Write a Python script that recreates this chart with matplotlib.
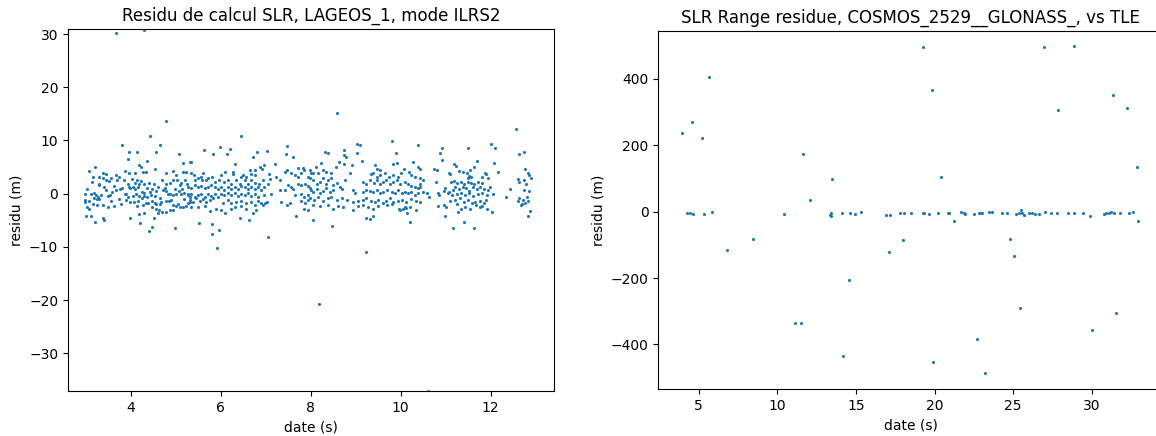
# -*- coding: utf-8 -*-
"""
Residus SLR : LAGEOS_1 (mode ILRS2) et COSMOS_2529 (GLONASS) vs TLE
"""

import matplotlib
matplotlib.use('Agg')
import matplotlib.pyplot as plt


##--------------------##
## Data
##--------------------##

# LAGEOS_1 : date (s) / residu (m)
lageos_t = [
    4.42, 3.81, 4.65, 3.96, 4.14, 4.56, 5.08, 3.93, 4.36, 5.16, 3.21, 4.19, 4.22, 4.54, 3.07, 4.27,
    4.33, 5.31, 3.87, 3.96, 4.10, 3.37, 3.44, 4.78, 4.94, 5.00, 5.16, 5.22, 3.16, 3.30, 3.38, 3.52,
    3.67, 3.73, 3.70, 3.13, 3.30, 3.28, 3.44, 4.02, 4.13, 4.23, 4.30, 4.41, 4.51, 4.19, 3.93, 3.96,
    4.04, 4.10, 3.99, 3.81, 3.76, 3.67, 3.59, 3.53, 3.48, 2.97, 3.03, 3.12, 3.18, 3.22, 3.27, 3.19,
    3.24, 3.30, 3.34, 2.97, 2.98, 3.07, 3.86, 3.90, 3.93, 4.11, 4.25, 4.30, 4.42, 4.56, 4.54, 4.44,
    4.36, 4.30, 4.17, 4.70, 4.78, 4.87, 4.93, 5.03, 5.12, 5.21, 5.09, 5.24, 4.72, 4.78, 4.82, 4.87,
    4.93, 5.00, 5.06, 5.11, 5.19, 5.27, 5.31, 3.89, 3.98, 4.07, 4.16, 4.13, 4.26, 4.33, 4.38, 4.48,
    4.53, 4.56, 4.65, 4.78, 4.84, 4.90, 4.94, 5.00, 5.05, 5.09, 5.15, 5.22, 5.27, 5.31, 3.03, 3.07,
    3.15, 3.24, 3.37, 3.50, 4.47, 4.56, 4.62, 4.69, 4.79, 4.87, 4.93, 3.01, 3.12, 3.21, 3.37, 3.40,
    3.98, 4.17, 4.20, 4.29, 4.41, 4.47, 4.51, 4.60, 4.99, 3.66, 4.29, 4.79,
    3.62, 3.74, 3.79, 3.85, 4.05, 4.08, 4.15, 4.24, 4.35, 4.46, 4.60, 4.64, 4.68, 4.75, 4.98, 5.14,
    5.18, 3.56, 3.63, 3.45, 3.40, 3.55,
    # 5.3 - 8.0
    6.45, 5.62, 5.99, 5.82, 6.13, 6.21, 6.80, 7.03, 6.71, 7.48, 7.45, 7.61, 5.33, 6.31, 6.65, 6.88,
    6.96, 6.91, 7.21, 6.75, 7.48, 7.43, 7.72, 7.83, 7.86, 5.34, 5.40, 5.61, 6.10, 6.27, 6.28, 6.01,
    6.49, 6.57, 6.45, 6.68, 6.75, 7.08, 7.09, 7.23, 7.32, 7.57, 7.64, 7.72, 7.79, 7.94, 8.01, 5.42,
    5.49, 5.56, 5.59, 5.67, 5.71, 5.80, 5.86, 5.97, 6.08, 6.16, 6.23, 6.34, 6.42, 6.53, 6.60, 6.68,
    6.75, 6.86, 6.94, 7.05, 5.27, 5.34, 5.42, 5.49, 5.56, 5.64, 5.71, 5.79, 5.86, 5.94, 6.01, 6.08,
    6.16, 6.23, 6.31, 6.38, 6.45, 6.53, 6.60, 6.68, 6.75, 6.82, 6.90, 6.97, 7.11, 7.31, 7.42, 7.49,
    7.57, 7.60, 7.72, 7.79, 7.88, 7.94, 7.98, 5.27, 5.34, 5.42, 5.49, 5.56, 5.64, 5.71, 5.79, 5.86,
    5.94, 6.01, 6.08, 6.16, 6.23, 6.31, 6.38, 6.45, 6.53, 6.60, 6.68, 6.75, 6.82, 6.97, 7.64, 7.79,
    7.86, 7.94, 5.31, 5.38, 5.45, 5.53, 5.60, 5.68, 5.75, 5.82, 6.04, 6.16, 6.23, 6.34, 6.45, 6.57,
    6.68, 6.75, 6.82, 6.90, 6.99, 7.33, 7.48, 7.53, 7.79, 7.88, 7.95, 5.34, 5.49, 5.64, 5.77, 5.89,
    6.01, 6.10, 6.22, 6.31, 6.45, 6.57, 6.71, 6.79, 6.93, 7.03, 7.86, 7.95, 6.43, 6.62, 7.67, 5.52,
    5.80, 5.97, 5.80, 5.91, 7.06,
    # 8.0 - 10.7
    9.02, 9.09, 9.81, 10.38, 8.31, 8.39, 8.74, 8.75, 8.78, 9.02, 9.90, 8.63, 8.74, 8.91, 9.15, 9.44,
    9.48, 9.54, 9.84, 9.91, 10.27, 10.39, 10.43, 10.74, 8.12, 8.22, 7.98, 8.06, 8.17, 8.28, 8.35, 8.44,
    8.56, 8.87, 8.76, 9.33, 9.39, 9.47, 9.55, 9.65, 9.73, 9.84, 9.93, 10.01, 10.07, 10.19, 10.24, 10.32,
    10.43, 10.50, 10.44, 7.98, 8.06, 8.13, 8.20, 8.28, 8.34, 8.39, 8.46, 8.50, 8.58, 8.65, 8.69, 9.17,
    9.24, 9.32, 9.41, 9.47, 9.54, 9.61, 9.67, 9.76, 9.82, 9.91, 9.98, 10.10, 10.17, 10.24, 10.32, 10.39,
    10.43, 8.00, 8.06, 8.13, 8.20, 8.28, 8.35, 8.43, 8.50, 8.95, 8.98, 9.17, 9.24, 9.32, 9.39, 9.47,
    9.54, 9.61, 9.69, 9.80, 9.87, 9.95, 10.02, 10.10, 10.17, 10.24, 10.32, 10.39, 10.50, 10.58, 10.64,
    7.98, 8.07, 8.17, 8.28, 8.39, 8.46, 8.58, 8.69, 8.81, 8.95, 9.06, 9.17, 9.24, 9.33, 9.43, 9.50,
    9.60, 9.67, 9.76, 9.84, 9.95, 10.02, 10.13, 10.24, 10.34, 10.43, 8.06, 8.20, 8.39, 8.49, 8.61, 8.72,
    8.93, 9.06, 9.17, 9.28, 9.39, 9.50, 9.69, 9.80, 9.97, 10.10, 10.21, 10.34, 8.06, 8.48, 9.24, 9.32,
    9.39, 10.15, 10.21, 8.59, 8.18, 9.24, 10.60, 9.98, 10.05, 10.13,
    # 10.7 - 13
    12.56, 12.02, 12.10, 10.92, 10.88, 10.92, 11.49, 12.64, 12.74, 11.70, 11.64, 11.55, 12.08, 11.18,
    11.23, 10.80, 11.07, 11.10, 11.29, 11.38, 11.47, 12.16, 12.76, 12.83, 12.86, 12.91, 10.79, 11.13,
    11.18, 11.25, 11.35, 11.42, 11.50, 11.57, 11.64, 11.72, 11.81, 11.87, 11.90, 11.94, 11.50, 11.53,
    11.57, 11.81, 12.61, 12.64, 12.79, 12.74, 10.99, 10.96, 11.07, 11.16, 11.22, 11.30, 11.38, 11.45,
    11.53, 11.62, 11.70, 11.77, 11.85, 11.94, 11.99, 12.43, 12.74, 12.85, 10.83, 10.86, 11.05, 11.14,
    11.25, 11.35, 11.44, 11.53, 11.62, 11.73, 11.82, 11.92, 12.05, 12.34, 12.64, 12.81, 11.10, 11.22,
    11.33, 11.40, 11.50, 11.59, 11.66, 11.77, 11.85, 11.90, 12.61, 12.70, 12.76, 12.83, 10.82, 10.96,
    11.01, 11.25, 11.35, 11.44, 11.55, 11.67, 11.77, 11.81, 11.93, 12.03, 12.68, 12.72, 12.88, 10.98,
    11.27, 11.42, 11.16, 11.63, 12.84,
]

lageos_res = [
    10.9, 9.2, 9.2, 7.9, 7.9, 7.9, 7.4, 6.6, 6.2, 5.7, 5.0, 5.4, 5.0, 4.6, 4.2, 4.1,
    4.0, 5.9, 4.3, 3.9, 3.8, 3.9, 3.6, 3.8, 4.3, 3.5, 4.0, 4.1, 3.2, 3.2, 3.0, 2.4,
    3.5, 3.2, 2.5, 2.2, 1.9, 1.6, 2.5, 2.7, 2.5, 2.4, 1.9, 2.0, 1.9, 1.9, 1.9, 1.3,
    1.3, 0.9, 1.0, 1.0, 0.8, 0.7, 0.3, -0.2, -0.5, 0.0, 0.8, -0.1, 0.2, -0.3, -0.6, -0.9,
    -1.1, -1.0, -0.3, -1.2, -1.5, -1.3, 0.0, 0.0, -0.6, 0.0, 0.3, 0.2, 0.3, 0.4, -0.5, -0.3,
    -0.6, -0.5, -0.5, 2.5, 1.9, 2.0, 2.5, 2.5, 2.0, 2.5, 1.6, 1.9, 0.7, 0.4, -0.1, 0.0,
    -0.3, -0.1, 0.4, -0.1, 0.2, -0.1, -0.6, -1.2, -1.5, -1.5, -1.3, -2.3, -2.2, -1.7, -1.7, -1.3,
    -1.7, -2.0, -2.0, -1.4, -1.4, -1.2, -2.2, -2.3, -2.0, -2.5, -2.5, -2.3, -1.8, -1.5, -2.6, -2.9,
    -2.0, -2.2, -2.2, -2.6, -2.6, -2.8, -3.1, -3.4, -3.4, -3.0, -3.0, -4.2, -4.2, -5.4, -4.5, -4.9,
    -4.5, -3.8, -5.5, -3.6, -7.0, -6.2, -4.5, -3.7, -6.4, 30.1, 30.8, 13.7,
    1.5, -1.0, -2.0, 2.6, -0.4, 2.0, 1.2, -0.9, 1.0, 0.9, 1.2, -0.8, -1.5, 1.0, 0.9, 0.8,
    -1.0, -1.4, -2.3, 0.6, 1.2, 3.0,
    # 5.3 - 8.0
    10.9, 8.2, 8.7, 7.4, 7.4, 8.3, 7.9, 8.1, 6.8, 9.0, 7.4, 6.8, 5.9, 5.5, 4.4, 5.05,
    5.36, 4.6, 5.5, 4.4, 4.4, 4.1, 4.9, 4.9, 4.4, 3.8, 3.5, 3.9, 4.1, 4.1, 3.7, 3.5,
    3.5, 3.2, 3.2, 3.6, 3.5, 3.7, 2.7, 3.2, 2.5, 3.8, 3.5, 3.2, 3.8, 3.2, 3.8, 2.5,
    2.9, 3.2, 2.5, 2.5, 2.9, 3.2, 2.2, 2.5, 2.2, 2.5, 1.9, 2.5, 1.9, 2.5, 1.9, 2.5,
    2.0, 1.9, 2.5, 1.9, 1.3, 1.0, 1.6, 1.2, 1.4, 1.0, 1.3, 1.6, 1.3, 0.8, 1.2, 0.7,
    1.2, 0.8, 1.3, 0.9, 1.4, 1.2, 0.9, 1.3, 0.8, 1.2, 0.7, 1.2, -0.1, 0.7, 0.7, 1.6,
    1.2, 0.8, 1.9, 1.6, 1.9, 1.4, 1.0, -0.3, 0.0, -0.6, -0.3, 0.0, -0.6, -0.1, -0.5, -0.1,
    -0.6, 0.0, -0.3, 0.2, -0.3, 0.2, -0.5, 0.0, -0.3, 0.2, -0.5, 0.0, -0.6, -0.3, -0.3, 0.0,
    -0.6, -0.3, -1.2, -1.5, -0.9, -1.3, -1.1, -1.5, -1.2, -0.9, -1.85, -1.2, -1.7, -1.5, -1.3, -1.7,
    -1.5, -2.2, -1.3, -1.85, -1.7, -1.5, -2.2, -1.85, -1.3, -1.85, -1.2, -2.5, -2.6, -2.3, -3.2, -2.8,
    -3.1, -3.7, -2.97, -2.6, -2.3, -2.97, -3.6, -3.1, -2.2, -1.5, -2.97, -3.1, -4.5, -5.0, -4.2, -5.6,
    -5.7, -6.9, -7.6, -10.2, -8.1,
    # 8.0 - 10.7
    9.4, 9.06, 9.9, 9.2, 7.9, 7.55, 8.2, 7.3, 6.9, 7.7, 7.7, 5.9, 5.5, 5.4, 6.1, 5.4,
    4.7, 4.5, 5.5, 5.7, 6.0, 5.05, 4.7, 4.7, 5.05, 5.7, 4.4, 3.8, 3.9, 4.4, 4.1, 3.8,
    5.05, 3.8, 2.5, 3.7, 3.9, 3.2, 3.5, 3.8, 3.2, 3.5, 3.2, 3.8, 4.7, 4.1, 3.5, 3.04,
    2.9, 2.5, 1.3, 2.9, 2.5, 1.9, 2.2, 2.9, 1.9, 2.5, 2.9, 1.6, 2.0, 1.3, 0.8, 2.2,
    1.9, 2.5, 2.0, 2.5, 1.9, 2.2, 2.5, 1.9, 2.2, 2.5, 1.8, 2.2, 1.9, 1.4, 1.2, 1.0,
    1.9, 0.7, 0.35, 0.8, 0.2, 0.5, 1.0, 0.35, 0.66, 0.66, 0.03, 0.35, 0.66, 0.5, 0.35, 0.66,
    0.03, 0.35, 0.66, 0.35, 0.03, 0.66, 0.03, 0.35, 0.03, 0.35, -0.28, 0.16, 0.35, 0.03, -0.59,
    -0.9, -1.2, -0.6, -1.3, -0.9, -0.6, -1.2, -0.9, -1.2, -1.5, -1.3, -1.2, -0.9, -1.3, -1.5, -1.2,
    -1.7, -1.3, -0.9, -1.5, -1.3, -1.2, -1.5, -1.09, -1.3, -1.5, -2.2, -2.3, -2.2, -2.97, -2.3, -2.6,
    -3.1, -2.3, -2.2, -2.6, -2.8, -2.3, -2.2, -1.97, -2.8, -2.6, -2.5, -3.1, -4.9, -6.1, -4.5, -4.7,
    -4.2, -3.7, -5.4, 15.1, -20.7, -10.9, -37.1, -3.1, -2.8, -2.7,
    # 10.7 - 13
    12.1, 9.4, 8.5, 8.5, 7.55, 6.3, 8.5, 7.4, 7.9, 6.1, 5.05, 4.5, 5.7, 5.5,
    5.2, 4.5, 3.9, 3.7, 4.3, 4.1, 3.9, 4.0, 4.6, 3.8, 3.5, 2.9, 2.2, 2.2,
    2.4, 2.0, 2.2, 1.9, 2.2, 2.0, 1.9, 2.2, 2.0, 3.9, 3.7, 2.9, 3.0, 3.4,
    3.2, 3.2, 2.7, 2.2, 1.9, 2.5, 1.0, 0.5, 0.35, 0.66, 1.2, 0.8, 1.3, 1.0,
    0.5, 1.2, 0.8, 1.2, 0.8, 0.66, 1.2, 0.8, 0.66, 0.5, 0.03, -0.3, 0.03, -0.3,
    -0.1, 0.2, -0.28, 0.03, -0.5, -0.1, 0.2, -0.28, -0.1, -0.6, -0.9, -0.7, -1.3, -1.2,
    -0.9, -1.5, -1.2, -1.7, -1.5, -1.3, -1.85, -1.2, -1.4, -1.97, -1.7, -1.4, -2.3, -2.2,
    -2.6, -1.97, -2.97, -2.6, -2.8, -2.2, -2.6, -2.3, -2.8, -3.4, -2.2, -1.2, -3.3, -4.2,
    -3.5, -5.4, -6.5, -6.5, -4.2,
]

# COSMOS_2529 (GLONASS) vs TLE : date (s) / residu (m)
cosmos_t = [
    3.94, 4.58, 5.21, 5.66, 4.26, 4.47, 4.64, 5.36, 5.87, 6.78, 8.46, 10.45, 11.10, 11.49, 11.61,
    12.06, 13.48, 13.33, 13.41, 13.41, 14.11, 14.18, 14.58, 14.64, 14.96, 15.34, 16.89, 17.14,
    17.08, 17.82,
    19.26, 19.84, 20.41, 26.93, 28.88, 27.85, 31.32, 32.27, 32.87, 32.93, 21.21, 17.99, 24.82,
    25.07, 25.45, 22.70, 19.90, 23.20, 30.03, 31.51,
    18.03, 18.50, 19.26, 19.33, 19.64, 20.22, 20.85, 20.90, 21.70, 21.85, 21.95, 22.48, 22.80,
    22.95, 23.01, 23.44, 23.65, 24.28, 24.60, 25.20, 25.35, 25.49, 25.56, 25.66, 25.98, 26.19,
    26.40, 26.66, 27.04, 27.40, 27.78, 28.46, 28.84, 29.43, 29.86, 30.75, 30.92, 31.07, 31.21,
    31.38, 31.81, 32.36, 32.61,
]

cosmos_res = [
    238, 270, 221, 405, -5, -5, -8, -8, -2, -116, -81, -8, -336, -336, 174,
    36, 98, -10, -3, -12, -5, -436, -207, -5, -8, -2, -11, -11,
    -122, -3,
    495, 367, 104, 495, 499, 306, 352, 311, 136, -29, -29, -84, -81,
    -134, -289, -383, -454, -486, -357, -304,
    -5, -5, -5, -3, -8, -5, -5, -3, -1, -5, -8, -8, -5,
    -5, -3, -1, 0, -5, -5, -8, -3, 4, -5, -10, -3, -5,
    -8, -8, -1, -5, -5, -5, -5, -5, -12, -8, -5, -5, -1,
    -5, -3, -5, -1,
]


##--------------------##
## Plot
##--------------------##

fig = plt.figure(figsize=(11.56, 4.36), dpi=100)

# left panel
ax1 = fig.add_axes([0.0588, 0.1032, 0.4204, 0.8310])
ax1.scatter(lageos_t, lageos_res, s=1.5)
ax1.set_xlim(2.60, 13.41)
ax1.set_ylim(-37.1, 31.0)
ax1.set_title('Residu de calcul SLR, LAGEOS_1, mode ILRS2')
ax1.set(xlabel='date (s)', ylabel='residu (m)')

# right panel (runs past the right edge, as in the original crop)
ax2 = fig.add_axes([0.5695, 0.1071, 0.4370, 0.8225])
ax2.scatter(cosmos_t, cosmos_res, s=1.5)
ax2.set_xlim(2.44, 34.56)
ax2.set_ylim(-535, 545)
ax2.set_title('SLR Range residue, COSMOS_2529__GLONASS_, vs TLE')
ax2.set(xlabel='date (s)', ylabel='residu (m)')

plt.savefig('out.png', dpi=100)
